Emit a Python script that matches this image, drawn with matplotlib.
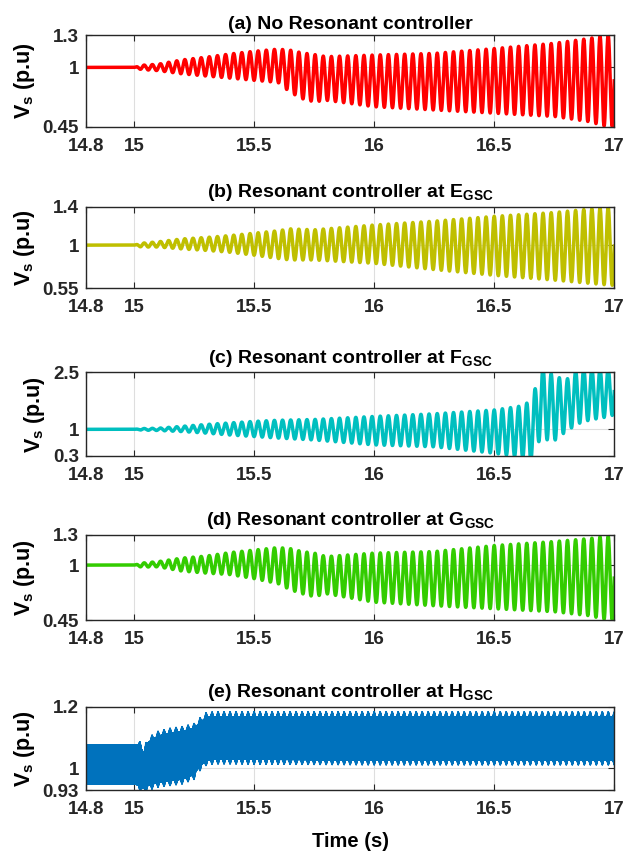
#
# Stator voltage under sub-synchronous oscillation, five controller cases
#
import numpy as np
import matplotlib.pyplot as plt

plt.rcParams['font.family'] = ['Liberation Sans', 'DejaVu Sans']
plt.rcParams['font.weight'] = 'bold'
plt.rcParams['mathtext.fontset'] = 'custom'
plt.rcParams['mathtext.rm'] = 'Liberation Sans:bold'
plt.rcParams['mathtext.bf'] = 'Liberation Sans:bold'
plt.rcParams['mathtext.it'] = 'Liberation Sans:bold'

# oscillation frequency of the growing mode (Hz)
osc_freq = 29.5

# (a) no resonant controller: envelope of Vs after the event at 15 s
t_a = [15.0, 15.03, 15.1, 15.2, 15.3, 15.4, 15.5, 15.6, 15.65, 15.7, 15.75,
       15.8, 16.0, 16.25, 16.5, 16.75, 16.9, 16.96, 17.0]
upper_a = [1.0, 1.02, 1.03, 1.07, 1.095, 1.125, 1.15, 1.17, 1.16, 1.135, 1.12,
           1.10, 1.115, 1.13, 1.175, 1.224, 1.27, 1.30, 1.30]
lower_a = [1.0, 0.98, 0.97, 0.94, 0.92, 0.90, 0.88, 0.86, 0.77, 0.71, 0.68,
           0.695, 0.635, 0.605, 0.575, 0.545, 0.495, 0.455, 0.45]

# (b) resonant controller at E_GSC
t_b = [15.0, 15.03, 15.1, 15.2, 15.3, 15.4, 15.5, 15.6, 15.65, 15.75, 16.0,
       16.25, 16.5, 16.75, 16.95, 17.0]
upper_b = [1.0, 1.02, 1.035, 1.065, 1.08, 1.10, 1.125, 1.15, 1.17, 1.16, 1.21,
           1.25, 1.30, 1.34, 1.39, 1.40]
lower_b = [1.0, 0.98, 0.98, 0.96, 0.945, 0.925, 0.895, 0.86, 0.845, 0.845, 0.81,
           0.745, 0.685, 0.635, 0.59, 0.58]

# (c) resonant controller at F_GSC
t_c = [15.0, 15.03, 15.1, 15.2, 15.3, 15.4, 15.5, 15.6, 15.75, 16.0, 16.25,
       16.5, 16.6, 16.66, 16.69, 16.75, 16.8, 16.85, 16.9, 16.95, 17.0]
upper_c = [1.0, 1.02, 1.03, 1.08, 1.13, 1.17, 1.21, 1.24, 1.26, 1.34, 1.41,
           1.51, 1.60, 1.75, 2.7, 2.4, 2.3, 2.6, 2.6, 2.6, 2.6]
lower_c = [1.0, 0.98, 0.97, 0.94, 0.90, 0.85, 0.81, 0.77, 0.72, 0.59, 0.54,
           0.37, 0.28, 0.18, 0.75, 0.70, 0.95, 1.15, 1.25, 1.30, 1.38]

# (d) resonant controller at G_GSC
t_d = t_a
upper_d = [1.0, 1.02, 1.035, 1.07, 1.09, 1.125, 1.15, 1.175, 1.165, 1.135, 1.12,
           1.085, 1.12, 1.135, 1.195, 1.235, 1.265, 1.29, 1.29]
lower_d = [1.0, 0.98, 0.983, 0.94, 0.92, 0.905, 0.865, 0.815, 0.755, 0.715, 0.685,
           0.715, 0.63, 0.595, 0.565, 0.535, 0.495, 0.46, 0.45]

# (e) resonant controller at H_GSC: band of the switching ripple
t_e = [14.8, 15.0, 15.02, 15.04, 15.06, 15.1, 15.15, 15.2, 15.25, 15.27,
       15.3, 15.33, 15.4, 16.0, 16.5, 17.0]
upper_e = [1.077, 1.077, 1.077, 1.05, 1.085, 1.105, 1.115, 1.12, 1.13, 1.145,
           1.165, 1.168, 1.168, 1.168, 1.168, 1.168]
lower_e = [0.95, 0.95, 0.945, 0.935, 0.945, 0.955, 0.96, 0.965, 0.98, 1.005,
           1.025, 1.03, 1.03, 1.027, 1.027, 1.027]
ripple_e = 0.016
ripple_freq = 40.0
switch_freq = 1000.0

titles = ['(a) No Resonant controller',
          r'(b) Resonant controller at E$_{\mathbf{GSC}}$',
          r'(c) Resonant controller at F$_{\mathbf{GSC}}$',
          r'(d) Resonant controller at G$_{\mathbf{GSC}}$',
          r'(e) Resonant controller at H$_{\mathbf{GSC}}$']
colors = ['#FF0000', '#BFBF00', '#00BFBF', '#33CC00', '#0072BD']
ylims = [(0.45, 1.3), (0.55, 1.4), (0.3, 2.5), (0.45, 1.3), (0.93, 1.2)]
yticks = [[0.45, 1, 1.3], [0.55, 1, 1.4], [0.3, 1, 2.5], [0.45, 1, 1.3],
          [0.93, 1, 1.2]]
xticks = [14.8, 15, 15.5, 16, 16.5, 17]
xticklabels = ['14.8', '15', '15.5', '16', '16.5', '17']

# axes boxes in figure fraction: left, bottom, width, height
boxes = [(0.1378, 0.8518, 0.8466, 0.1072),
         (0.1378, 0.6628, 0.8466, 0.0954),
         (0.1378, 0.4667, 0.8466, 0.0979),
         (0.1378, 0.2745, 0.8466, 0.0998),
         (0.1378, 0.0760, 0.8466, 0.0974)]
title_pads = [4, 7, 7, 7, 7]


def grow_signal(t, tk, up, lo):
    '''
        Flat 1 p.u. before the event, then the oscillation between the envelopes.
    '''
    up_i = np.interp(t, tk, up)
    lo_i = np.interp(t, tk, lo)
    mid = 0.5 * (up_i + lo_i)
    half = 0.5 * (up_i - lo_i)
    v = mid + half * np.sin(2 * np.pi * osc_freq * (t - 15.0))
    return np.where(t < 15.0, 1.0, v)


def ripple_signal(t, tk, up, lo):
    up_i = np.interp(t, tk, up)
    lo_i = np.interp(t, tk, lo)
    mid = 0.5 * (up_i + lo_i)
    half = 0.5 * (up_i - lo_i)
    bump = np.where(t < 15.02, 0.0,
                    ripple_e * np.cos(np.pi * ripple_freq * t) ** 8)
    return mid + (half + bump) * np.sin(2 * np.pi * switch_freq * t)


t = np.arange(14.8, 17.0 + 1e-9, 1e-4)
t_fast = np.arange(14.8, 17.0 + 1e-9, 2e-5)

signals = [(t, grow_signal(t, t_a, upper_a, lower_a)),
           (t, grow_signal(t, t_b, upper_b, lower_b)),
           (t, grow_signal(t, t_c, upper_c, lower_c)),
           (t, grow_signal(t, t_d, upper_d, lower_d)),
           (t_fast, ripple_signal(t_fast, t_e, upper_e, lower_e))]

fig = plt.figure(figsize=(6.24, 8.55), dpi=100)

for i, (tt, vv) in enumerate(signals):
    ax = fig.add_axes(boxes[i])
    lw = 1.0 if i == 4 else 2.5
    ax.plot(tt, vv, color=colors[i], linewidth=lw)
    ax.set_xlim(14.8, 17.0)
    ax.set_ylim(*ylims[i])
    ax.set_xticks(xticks)
    ax.set_xticklabels(xticklabels)
    ax.set_yticks(yticks[i])
    ax.set_yticklabels([f'{v:g}' for v in yticks[i]])
    ax.grid(True, color='#dedede', linewidth=0.8)
    ax.set_axisbelow(True)
    ax.tick_params(direction='in', top=True, right=True, length=4,
                   width=0.8, labelsize=13.5, colors='#262626')
    ax.tick_params(axis='x', pad=8)
    ax.tick_params(axis='y', pad=5)
    for lab in ax.get_xticklabels() + ax.get_yticklabels():
        lab.set_fontweight('bold')
    for sp in ax.spines.values():
        sp.set_linewidth(1.0)
        sp.set_color('#262626')
    ax.set_title(titles[i], fontsize=14, fontweight='bold', pad=title_pads[i])
    ax.set_ylabel(r'V$_{\mathbf{s}}$ (p.u)', fontsize=15.5, fontweight='bold',
                  labelpad=4)
    if i == 4:
        ax.set_xlabel('Time (s)', fontsize=14.5, fontweight='bold', labelpad=10)

plt.savefig('out.png', dpi=100)
